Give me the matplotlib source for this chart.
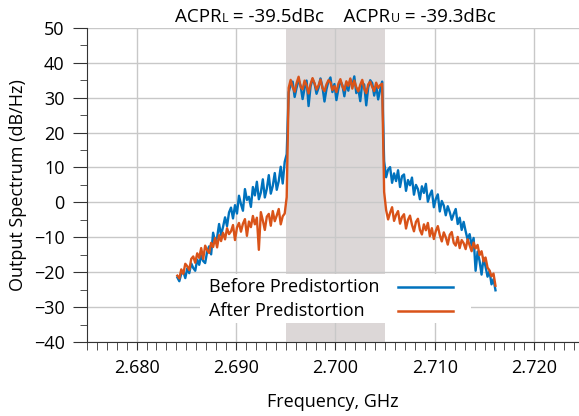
import numpy as np
import matplotlib.pyplot as plt
from matplotlib.patches import Rectangle
from matplotlib.lines import Line2D

plt.rcParams['font.family'] = ['Open Sans', 'DejaVu Sans']

# frequency grid (GHz), 0.2 MHz spacing
f_start = 2.6841
f_step = 0.0002
n_pts = 161

# Before predistortion (dB/Hz) - lower sideband / channel / upper sideband
before_lo = [-21.5, -22.6, -20.4, -19.8, -21.7, -18.9, -20.3, -17.5,
             -18.8, -19.6, -16.4, -17.9, -15.2, -16.8, -17.4, -14.1,
             -12.6, -14.9, -8.7, -11.3, -10.1, -6.2, -9.4, -7.0,
             -4.3, -6.8, -2.9, -1.5, -4.6, -0.8, -3.2, 1.9,
             -0.5, -2.4, 3.8, 0.7, 1.6, -1.3, 4.4, 2.0,
             5.9, 0.9, 2.8, 6.6, 1.4, 3.9, 7.8, 2.5,
             4.7, 8.4, 3.6, 6.1, 10.2, 5.4, 11.6, 13.8]
before_ch = [31.5, 33.8, 34.6, 30.2, 32.9, 35.1, 33.4, 29.6,
             32.7, 34.9, 27.6, 33.2, 35.3, 34.0, 31.1, 32.8,
             35.5, 33.0, 28.9, 32.4, 34.7, 35.8, 31.6, 33.9,
             29.3, 32.5, 34.8, 33.6, 30.4, 34.1, 32.0, 35.2,
             33.5, 36.1, 31.3, 32.6, 29.0, 34.3, 33.7, 27.8,
             32.9, 35.0, 34.2, 30.6, 33.4, 29.5, 32.3, 34.6]
before_hi = [11.8, 7.2, 9.4, 10.1, 5.6, 8.3, 6.1, 9.2,
             4.4, 7.5, 8.0, 3.3, 6.4, 4.9, 7.1, 2.2,
             5.0, 3.8, 0.9, 4.6, 2.7, 5.3, 0.2, 2.1,
             3.4, -1.4, 1.0, 2.3, -2.6, 0.4, -0.9, -3.7,
             -1.1, -2.8, -5.0, -3.3, -1.9, -6.2, -4.4, -7.9,
             -5.6, -8.3, -10.7, -9.1, -12.4, -10.2, -19.6, -14.1,
             -16.8, -20.7, -15.9, -18.4, -21.3, -19.7, -23.5, -22.0,
             -25.2]

# After predistortion (dB/Hz)
after_lo = [-21.0, -21.8, -19.2, -20.5, -17.6, -18.3, -19.4, -16.2,
            -15.5, -17.3, -14.6, -15.9, -13.1, -16.2, -12.4, -13.7,
            -14.5, -11.6, -12.8, -10.2, -12.9, -9.4, -11.1, -8.7,
            -10.6, -7.4, -9.1, -8.3, -6.5, -10.8, -7.2, -5.9,
            -8.4, -6.1, -4.8, -9.6, -5.5, -7.1, -3.9, -6.3,
            -4.4, -13.6, -2.8, -5.2, -7.9, -4.1, -3.3, -6.7,
            -2.5, -5.4, -3.8, -1.9, -6.3, -4.0, -3.2, 1.5]
after_ch = [32.8, 35.1, 33.0, 31.7, 34.2, 36.0, 33.1, 32.4,
            34.9, 33.6, 31.2, 33.9, 35.6, 34.1, 32.3, 33.5,
            35.2, 32.7, 31.9, 33.8, 35.0, 34.4, 32.2, 33.3,
            31.6, 34.0, 35.3, 33.2, 32.1, 34.7, 33.4, 35.5,
            32.6, 34.9, 33.0, 31.8, 33.7, 35.1, 32.5, 31.3,
            33.8, 34.6, 33.1, 31.9, 34.3, 32.8, 33.6, 34.0]
after_hi = [3.0, -2.2, -4.9, -3.0, -1.4, -5.3, -3.6, -2.5,
            -6.1, -4.2, -3.4, -7.5, -5.0, -3.8, -6.4, -8.3,
            -5.6, -4.7, -7.9, -9.2, -6.3, -8.0, -5.9, -9.7,
            -7.4, -10.5, -8.2, -6.8, -9.4, -11.2, -8.6, -10.0,
            -12.1, -9.3, -8.5, -11.6, -12.4, -9.9, -13.1, -10.8,
            -11.7, -13.4, -10.6, -12.3, -14.0, -11.5, -13.2, -12.2,
            -15.1, -14.0, -16.9, -15.8, -18.7, -19.5, -21.2, -20.4,
            -23.9]

channel = (2.695, 2.705)
acpr_l = -39.5
acpr_u = -39.3
labels = ['Before Predistortion', 'After Predistortion']
colors = ['#0072BD', '#D95319']

freq = np.round(f_start + f_step * np.arange(n_pts), 4)
before = np.array(before_lo + before_ch + before_hi)
after = np.array(after_lo + after_ch + after_hi)

fig = plt.figure(figsize=(5.79, 4.16), dpi=100)
ax = fig.add_axes([0.15, 0.178, 0.85, 0.755])

ax.axvspan(channel[0], channel[1], color='#dcd7d7', zorder=0, lw=0)
ax.plot(freq, before, color=colors[0], lw=1.7, zorder=3)
ax.plot(freq, after, color=colors[1], lw=1.7, zorder=4)

ax.set_xlim(2.675, 2.7245)
ax.set_ylim(-40, 50)
ax.set_xticks([2.680, 2.690, 2.700, 2.710, 2.720])
ax.set_xticklabels(['2.680', '2.690', '2.700', '2.710', '2.720'])
ax.set_xticks(np.arange(2.675, 2.7245, 0.001), minor=True)
ax.set_yticks(np.arange(-40, 51, 10))
ax.set_yticks(np.arange(-40, 51, 5), minor=True)
ax.grid(True, which='major', color='#c8c8c8', lw=1.0, zorder=1)
ax.set_axisbelow(True)
for s in ['top', 'right']:
    ax.spines[s].set_visible(False)
for s in ['left', 'bottom']:
    ax.spines[s].set_color('#333333')
ax.tick_params(axis='y', which='major', length=10, color='#333333', labelsize=13, pad=6)
ax.tick_params(axis='y', which='minor', length=5, color='#333333')
ax.tick_params(axis='x', which='both', length=6, color='#333333', labelsize=13, pad=6)

ax.set_xlabel('Frequency, GHz', fontsize=13, labelpad=12)
ax.set_ylabel('Output Spectrum (dB/Hz)', fontsize=13, labelpad=5)

# legend: label text on the left, line sample on the right, white box
ax.add_patch(Rectangle((0.23, 0.06), 0.55, 0.155, transform=ax.transAxes,
                       facecolor='white', edgecolor='none', zorder=5))
for k, (lab, c) in enumerate(zip(labels, colors)):
    yy = 0.176 - k * 0.079
    ax.text(0.248, yy, lab, transform=ax.transAxes, fontsize=13,
            ha='left', va='center', zorder=6)
    ax.add_line(Line2D([0.633, 0.744], [yy, yy], transform=ax.transAxes,
                       color=c, lw=1.8, zorder=6))

# title with small-cap L / U, centred over 2.700 GHz
fig.canvas.draw()
r = fig.canvas.get_renderer()
pieces = [('ACPR', 13.5), ('L', 9), (f' = {acpr_l}dBc    ACPR', 13.5), ('U', 9), (f' = {acpr_u}dBc', 13.5)]
W = fig.bbox.width
texts = []
x = 0.0
for s, fs in pieces:
    t = fig.text(0, 1 - 22 / 416, s, fontsize=fs, ha='left', va='baseline')
    w = t.get_window_extent(r).width
    texts.append((t, x))
    x += w
xc = ax.transData.transform((2.700, 0))[0]
x0 = xc - x / 2
for t, off in texts:
    t.set_x((x0 + off) / W)

fig.savefig('out.png', dpi=100)
